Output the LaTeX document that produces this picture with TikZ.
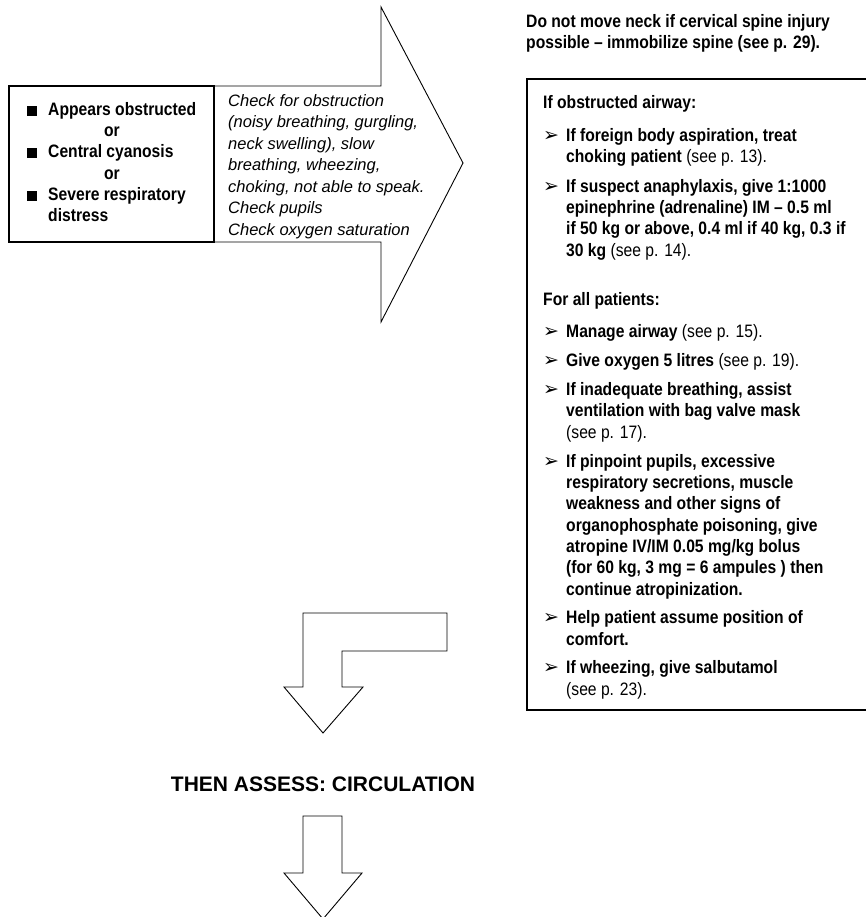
\documentclass[tikz,border=0pt]{standalone}
\usepackage{fontspec}
\setmainfont{Liberation Sans}[FakeStretch=0.87]
\newfontfamily\plainfont{Liberation Sans}
\newfontfamily\symfont{DejaVu Sans}
\usepackage{tikz}
\newcommand{\bodyfont}{\fontsize{18}{21.3}\selectfont}
\newcommand{\checkfont}{\plainfont\itshape\fontsize{16.5}{21.4}\selectfont}
\newcommand{\assessfont}{\plainfont\bfseries\fontsize{21}{24}\selectfont}
\newcommand{\sqbullet}{\makebox[21pt][l]{\rule{9.5pt}{9.5pt}}}
\newcommand{\arrowbullet}{\makebox[23pt][l]{\symfont\fontsize{19}{19}\selectfont ➢}}
\newcommand{\indentline}{\hspace*{23pt}}
\tikzset{signbox/.style={draw, line width=1.1pt, inner sep=0pt}}
\tikzset{actbox/.style={draw, line width=1.1pt, inner sep=0pt}}
\tikzset{blockarrow/.style={draw, line width=0.9pt, line join=miter}}
\tikzset{signtext/.style={inner sep=0pt, anchor=base west, align=left, font=\bodyfont\bfseries}}
\tikzset{checktext/.style={inner sep=0pt, anchor=base west, align=left, font=\checkfont}}
\tikzset{acttext/.style={inner sep=0pt, anchor=base west, align=left, font=\bodyfont}}

\begin{document}
\begin{tikzpicture}[x=1pt, y=-1pt]

\useasboundingbox (0,0) rectangle (865,917);

\draw[blockarrow] (214,86) -- (381,86) -- (381,7) -- (463,163) -- (381,322) -- (381,242) -- (214,242);

\node[signbox, minimum width=205pt, minimum height=156pt] (signs) at (111.5,164) {};

% multi-line nodes sit on the baseline of their last line
\node[signtext] (sign1) at (27,116) {\sqbullet Appears obstructed};
\node[signtext, anchor=base] (or1) at (112,137) {or};
\node[signtext] (sign2) at (27,158) {\sqbullet Central cyanosis};
\node[signtext, anchor=base] (or2) at (112,180) {or};
\node[signtext] (sign3) at (27,222) {\sqbullet Severe respiratory\\\hspace*{21pt}distress};

\node[checktext] (check) at (228,235) {Check for obstruction\\(noisy breathing, gurgling,\\neck swelling), slow\\breathing, wheezing,\\choking, not able to speak.\\Check pupils\\Check oxygen saturation};

\node[signtext] (neck) at (526,49) {Do not move neck if cervical spine injury\\possible – immobilize spine (see p. 29).};

\node[actbox, minimum width=343pt, minimum height=631pt] (actions) at (698.5,394.5) {};

\node[signtext] (obst) at (543,109) {If obstructed airway:};
\node[acttext] (act1) at (543,163) {\arrowbullet\textbf{If foreign body aspiration, treat}\\\indentline\textbf{choking patient} (see p. 13).};
\node[acttext] (act2) at (543,256) {\arrowbullet\textbf{If suspect anaphylaxis, give 1:1000}\\\indentline\textbf{epinephrine (adrenaline) IM – 0.5 ml}\\\indentline\textbf{if 50 kg or above, 0.4 ml if 40 kg, 0.3 if}\\\indentline\textbf{30 kg} (see p. 14).};

\node[signtext] (all) at (543,305) {For all patients:};
\node[acttext] (act3) at (543,337) {\arrowbullet\textbf{Manage airway} (see p. 15).};
\node[acttext] (act4) at (543,366) {\arrowbullet\textbf{Give oxygen 5 litres} (see p. 19).};
\node[acttext] (act5) at (543,438) {\arrowbullet\textbf{If inadequate breathing, assist}\\\indentline\textbf{ventilation with bag valve mask}\\\indentline(see p. 17).};
\node[acttext] (act6) at (543,595) {\arrowbullet\textbf{If pinpoint pupils, excessive}\\\indentline\textbf{respiratory secretions, muscle}\\\indentline\textbf{weakness and other signs of}\\\indentline\textbf{organophosphate poisoning, give}\\\indentline\textbf{atropine IV/IM 0.05 mg/kg bolus}\\\indentline\textbf{(for 60 kg, 3 mg = 6 ampules ) then}\\\indentline\textbf{continue atropinization.}};
\node[acttext] (act7) at (543,645) {\arrowbullet\textbf{Help patient assume position of}\\\indentline\textbf{comfort.}};
\node[acttext] (act8) at (543,695) {\arrowbullet\textbf{If wheezing, give salbutamol}\\\indentline(see p. 23).};

\draw[blockarrow] (303,613) -- (447,613) -- (447,651) -- (342,651) -- (342,687) -- (363,687) -- (323,733) -- (284,687) -- (303,687) -- cycle;

\node[font=\assessfont, anchor=base, inner sep=0pt] (assess) at (323,791) {THEN ASSESS: CIRCULATION};

\draw[blockarrow] (303,816) -- (342,816) -- (342,873) -- (362,873) -- (323,919) -- (284,873) -- (303,873) -- cycle;

\end{tikzpicture}
\end{document}
